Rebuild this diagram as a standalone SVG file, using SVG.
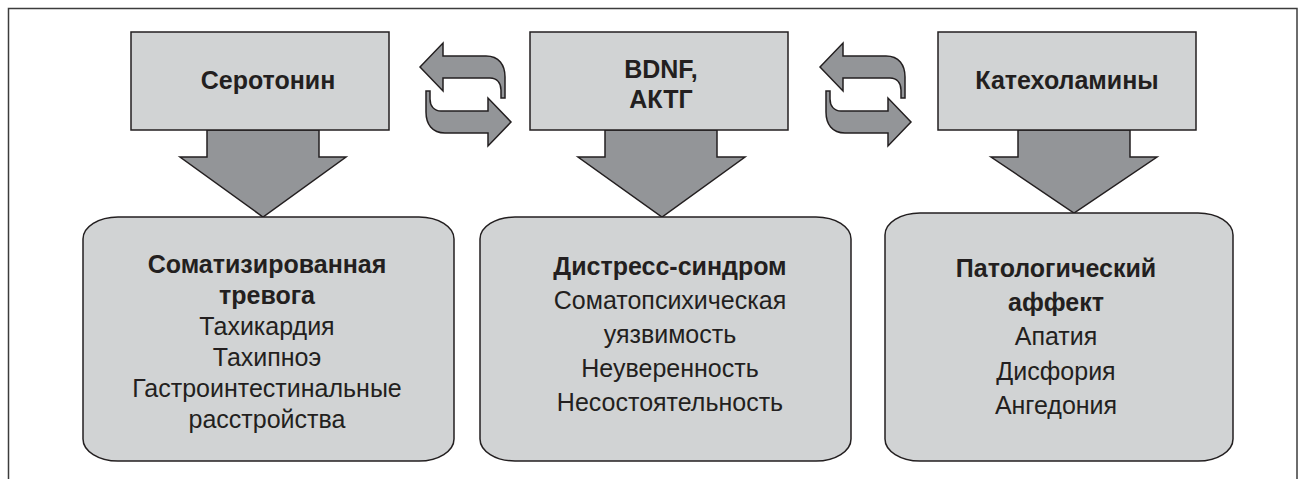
<svg xmlns="http://www.w3.org/2000/svg" xmlns:xlink="http://www.w3.org/1999/xlink" width="1301" height="479" viewBox="0 0 1301 479">
  <style>
    .frame { fill: #ffffff; stroke: #3c3c3c; stroke-width: 1.5; }
    .box { fill: #d1d3d4; stroke: #231f20; stroke-width: 1.5; }
    .arr { fill: #939598; stroke: #231f20; stroke-width: 1.5; stroke-linejoin: miter; }
    .t { font-family: "Liberation Sans", Arial, sans-serif; font-size: 25px; fill: #231f20; text-anchor: middle; }
    .b { font-weight: bold; }
  </style>
  <defs>
    <path id="ua" d="M420,67 L443,43 L443,56 L486,56 C499,56 505,65 505,77 L505,98 L501,98 L501,90 C501,83 497,78 490,78 L443,78 L443,91 Z"/>
  </defs>
  <rect class="frame" x="8.5" y="8.5" width="1288.5" height="520"/>

  <g id="connectors">
    <g id="cycle-left">
      <use href="#ua" class="arr"/>
      <use href="#ua" class="arr" transform="rotate(180 465.5 94.5)"/>
    </g>
    <g id="cycle-right">
      <use href="#ua" class="arr" transform="translate(400 0)"/>
      <use href="#ua" class="arr" transform="translate(400 0) rotate(180 465.5 94.5)"/>
    </g>
    <path id="down1" class="arr" d="M207,130 L319,130 L319,157 L346,157 L263,217 L180,157 L207,157 Z"/>
    <path id="down2" class="arr" d="M605,130 L717,130 L717,157 L745,157 L662,217 L578,157 L605,157 Z"/>
    <path id="down3" class="arr" d="M1018,130 L1130,130 L1130,157 L1157,157 L1074,213 L991,157 L1018,157 Z"/>
  </g>

  <g id="serotonin">
    <rect class="box" x="131" y="32" width="258" height="98"/>
    <text class="t b" x="268" y="89">Серотонин</text>
  </g>
  <g id="bdnf">
    <rect class="box" x="530" y="32" width="258" height="98"/>
    <text class="t b" x="661" y="78">BDNF,</text>
    <text class="t b" x="661" y="108">АКТГ</text>
  </g>
  <g id="catecholamines">
    <rect class="box" x="938" y="32" width="258" height="98"/>
    <text class="t b" x="1067" y="89">Катехоламины</text>
  </g>

  <g id="somatized-anxiety">
    <rect class="box" x="83" y="217" width="371" height="244" rx="35" ry="22"/>
    <text class="t b" x="267" y="273">Соматизированная</text>
    <text class="t b" x="267" y="304">тревога</text>
    <text class="t" x="267" y="335">Тахикардия</text>
    <text class="t" x="267" y="366">Тахипноэ</text>
    <text class="t" x="267" y="397">Гастроинтестинальные</text>
    <text class="t" x="267" y="428">расстройства</text>
  </g>
  <g id="distress">
    <rect class="box" x="480" y="217" width="371" height="244" rx="35" ry="22"/>
    <text class="t b" x="670" y="275">Дистресс-синдром</text>
    <text class="t" x="670" y="309">Соматопсихическая</text>
    <text class="t" x="670" y="343">уязвимость</text>
    <text class="t" x="670" y="377">Неуверенность</text>
    <text class="t" x="670" y="411">Несостоятельность</text>
  </g>
  <g id="pathological-affect">
    <rect class="box" x="885" y="213" width="348" height="248" rx="35" ry="22"/>
    <text class="t b" x="1056" y="277">Патологический</text>
    <text class="t b" x="1056" y="311">аффект</text>
    <text class="t" x="1056" y="345">Апатия</text>
    <text class="t" x="1056" y="380">Дисфория</text>
    <text class="t" x="1056" y="414">Ангедония</text>
  </g>
</svg>
